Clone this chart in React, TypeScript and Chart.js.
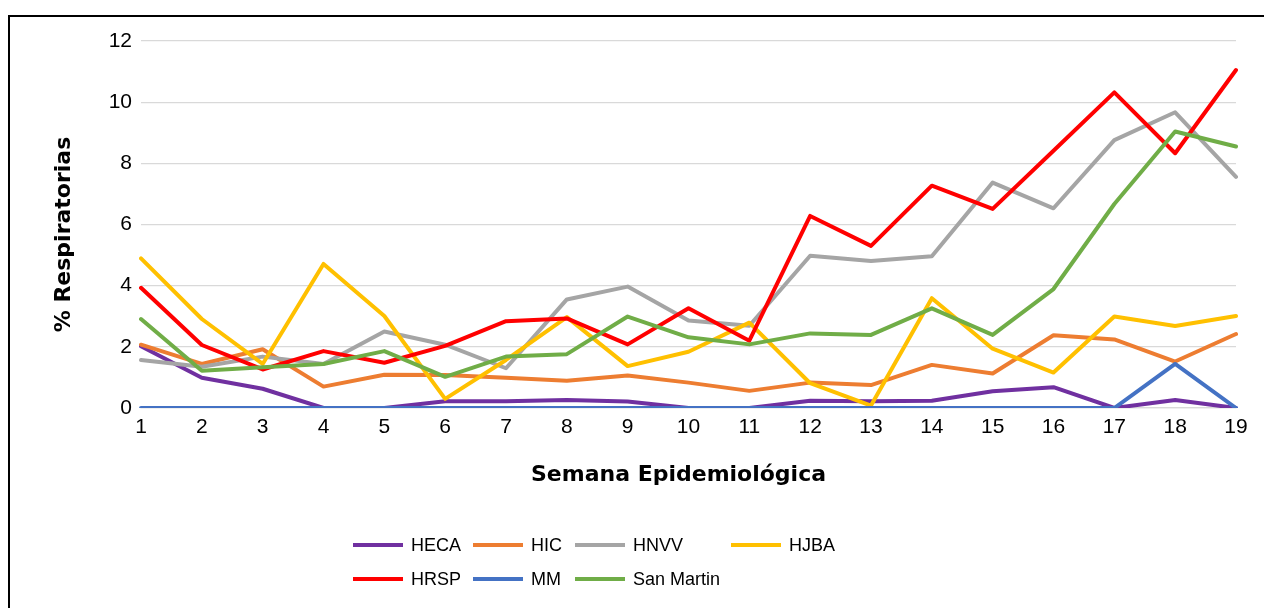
import React, { useEffect, useRef } from "react";
import { Chart, registerables } from "chart.js";

Chart.register(...registerables);

const weeks = ["1", "2", "3", "4", "5", "6", "7", "8", "9", "10", "11", "12", "13", "14", "15", "16", "17", "18", "19"];

const hecaValues = [2.02, 0.99, 0.63, 0, 0, 0.22, 0.22, 0.26, 0.21, 0, 0, 0.24, 0.22, 0.24, 0.55, 0.68, 0, 0.26, 0];
const hicValues = [2.07, 1.44, 1.92, 0.7, 1.09, 1.08, 0.99, 0.89, 1.06, 0.83, 0.56, 0.83, 0.75, 1.41, 1.13, 2.38, 2.24, 1.52, 2.42];
const hnvvValues = [1.57, 1.35, 1.68, 1.44, 2.5, 2.07, 1.3, 3.55, 3.97, 2.86, 2.69, 4.98, 4.81, 4.96, 7.37, 6.53, 8.76, 9.67, 7.56];
const hjbaValues = [4.89, 2.91, 1.44, 4.71, 3.01, 0.3, 1.57, 2.97, 1.37, 1.84, 2.79, 0.81, 0.08, 3.59, 1.94, 1.16, 2.99, 2.68, 3.01];
const hrspValues = [3.93, 2.06, 1.26, 1.86, 1.48, 2.03, 2.84, 2.93, 2.08, 3.26, 2.2, 6.28, 5.3, 7.27, 6.51, 8.41, 10.32, 8.33, 11.05];
const mmValues = [0, 0, 0, 0, 0, 0, 0, 0, 0, 0, 0, 0, 0, 0, 0, 0, 0, 1.44, 0];
const sanMartinValues = [2.91, 1.22, 1.33, 1.44, 1.86, 1.02, 1.68, 1.76, 2.99, 2.31, 2.08, 2.44, 2.39, 3.26, 2.39, 3.89, 6.67, 9.04, 8.55];

const seriesNames = ["HECA", "HIC", "HNVV", "HJBA", "HRSP", "MM", "San Martin"];
const seriesValues = [hecaValues, hicValues, hnvvValues, hjbaValues, hrspValues, mmValues, sanMartinValues];
const seriesColors = ["#7030A0", "#ED7D31", "#A5A5A5", "#FFC000", "#FF0000", "#4472C4", "#70AD47"];

const yMin = 0;
const yMax = 12;
const yStep = 2;

const xTitle = "Semana Epidemiológica";
const yTitle = "% Respiratorias";

// legend layout (row, column) per series
const legendRow = [0, 0, 0, 0, 1, 1, 1];
const legendCol = [0, 1, 2, 3, 0, 1, 2];
const legendColLeft = [343, 463, 565, 721];
const legendRowCenter = [528, 562];

const titleFont = "bold 22px 'DejaVu Sans', sans-serif";

const axisTitlesPlugin = {
  id: "axisTitles",
  afterDraw(chart: any) {
    const { ctx, chartArea } = chart;
    const cx = (chartArea.left + chartArea.right) / 2;
    const cy = (chartArea.top + chartArea.bottom) / 2;
    ctx.save();
    ctx.fillStyle = "#000";
    ctx.font = titleFont;
    ctx.textAlign = "center";
    ctx.textBaseline = "middle";
    ctx.fillText(xTitle, cx - 10, chartArea.bottom + 67);
    ctx.translate(54, cy + 10);
    ctx.rotate(-Math.PI / 2);
    ctx.fillText(yTitle, 0, 0);
    ctx.restore();
  },
};

export default function App() {
  const ref = useRef<HTMLCanvasElement>(null);

  useEffect(() => {
    const n = seriesNames.length;
    const chart = new Chart(ref.current as HTMLCanvasElement, {
      type: "line",
      data: {
        labels: weeks,
        datasets: seriesNames.map((name, i) => ({
          label: name,
          data: seriesValues[i],
          borderColor: seriesColors[i],
          backgroundColor: seriesColors[i],
          borderWidth: 4,
          pointRadius: 0,
          pointHoverRadius: 0,
          tension: 0,
          fill: false,
          borderJoinStyle: "round" as const,
          borderCapStyle: "round" as const,
          order: n - 1 - i,
        })),
      },
      plugins: [axisTitlesPlugin],
      options: {
        responsive: false,
        animation: false,
        events: [],
        layout: { padding: { top: 24, right: 28, left: 42, bottom: 110 } },
        plugins: {
          legend: { display: false },
          tooltip: { enabled: false },
        },
        scales: {
          x: {
            type: "category",
            offset: false,
            grid: { display: false, drawTicks: false },
            border: { display: true, color: "#D9D9D9", width: 1.3 },
            ticks: {
              color: "#000",
              padding: 7,
              maxRotation: 0,
              autoSkip: false,
              font: { family: "'Liberation Sans', Arial, sans-serif", size: 21 },
            },
            afterFit: (s: any) => {
              s.height = 90;
            },
          },
          y: {
            min: yMin,
            max: yMax,
            ticks: {
              stepSize: yStep,
              color: "#000",
              padding: 9,
              font: { family: "'Liberation Sans', Arial, sans-serif", size: 21 },
            },
            grid: { color: "#D9D9D9", lineWidth: 1.3, drawTicks: false },
            border: { display: false },
            afterFit: (s: any) => {
              s.width = 89;
            },
          },
        },
      },
    });
    return () => chart.destroy();
  }, []);

  return (
    <div
      style={{
        position: "fixed",
        left: 8,
        top: 15,
        width: 1254,
        height: 591,
        borderTop: "2px solid #000",
        borderLeft: "2px solid #000",
        overflow: "hidden",
      }}
    >
      <canvas ref={ref} width={1254} height={591} style={{ display: "block" }} />
      {seriesNames.map((name, i) => (
        <div
          key={name}
          style={{
            position: "absolute",
            left: legendColLeft[legendCol[i]],
            top: legendRowCenter[legendRow[i]] - 12,
            height: 24,
            display: "flex",
            alignItems: "center",
            whiteSpace: "nowrap",
            fontFamily: "'Liberation Sans', Arial, sans-serif",
            fontSize: 18,
            color: "#000",
          }}
        >
          <span style={{ display: "inline-block", width: 50, height: 4, background: seriesColors[i], marginRight: 8 }} />
          <span>{name}</span>
        </div>
      ))}
    </div>
  );
}
